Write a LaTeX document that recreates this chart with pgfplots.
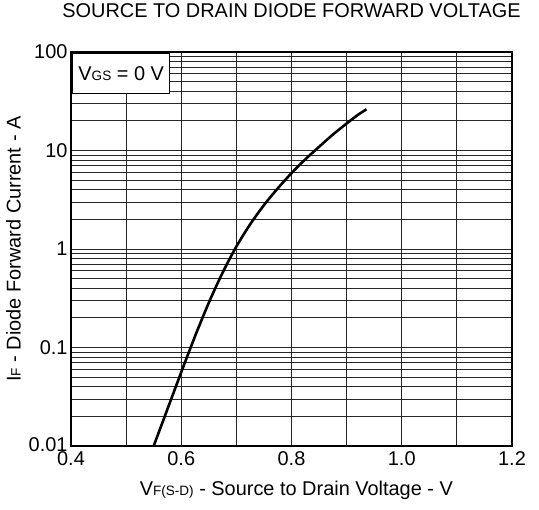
\documentclass[border=0pt]{standalone}
\usepackage{fontspec}
\setmainfont{Liberation Sans}
\usepackage{pgfplots}
\pgfplotsset{compat=1.18}

% smaller letters set on the baseline (V_GS, I_F ...)
\newcommand\sm[1]{{\fontsize{13.6}{16}\selectfont #1}}
\newcommand\lbl{\fontsize{20}{24}\selectfont}

\begin{document}
\begin{tikzpicture}
\begin{axis}[
    name=ax,
    at={(0,0)}, anchor=south west,
    width=441bp, height=394bp,
    scale only axis,
    xmin=0.4, xmax=1.2,
    ymode=log, ymin=0.01, ymax=100,
    xtick={0.4,0.6,0.8,1.0,1.2},
    xticklabels={0.4,0.6,0.8,1.0,1.2},
    minor x tick num=1,
    ytick={0.01,0.1,1,10,100},
    yticklabels={\raisebox{3bp}{0.01}\hspace{4bp},0.1,1,10,100},
    grid=both,
    major grid style={black!85, line width=0.9bp},
    minor grid style={black!85, line width=0.9bp},
    major tick length=0pt, minor tick length=0pt,
    axis line style={line width=2.2bp},
    tick label style={font=\lbl},
    x tick label style={yshift=-2bp},
    label style={font=\lbl},
    title style={font=\lbl, at={(axis description cs:0.5,1.0888)}, anchor=center},
    xlabel style={at={(axis description cs:0.511,-0.1129)}, anchor=center},
    ylabel style={at={(axis description cs:-0.1304,0.5)}, anchor=center},
    title={SOURCE TO DRAIN DIODE FORWARD VOLTAGE},
    xlabel={V\sm{F(S-D)} - Source to Drain Voltage - V},
    ylabel={I\sm{F} - Diode Forward Current - A},
]

% I_F vs V_SD
\addplot[black, line width=2.6bp, smooth] coordinates {
    (0.550, 0.0100)
    (0.575, 0.0237)
    (0.600, 0.0562)
    (0.625, 0.130)
    (0.650, 0.285)
    (0.675, 0.575)
    (0.700, 1.06)
    (0.725, 1.78)
    (0.750, 2.79)
    (0.775, 4.12)
    (0.800, 5.89)
    (0.825, 8.13)
    (0.850, 10.9)
    (0.875, 14.5)
    (0.900, 18.8)
    (0.920, 22.9)
    (0.936, 26.2)
};

\node[draw, line width=1.2bp, fill=white, anchor=north west,
      minimum width=97bp, minimum height=40bp, inner sep=0pt, font=\lbl]
    at ([xshift=1.1bp, yshift=-1.1bp]rel axis cs:0,1) {V\sm{GS} = 0 V};

\end{axis}
\pgfresetboundingbox
\useasboundingbox ([shift={(-71bp,-64bp)}]ax.south west)
    rectangle ([shift={(27bp,52bp)}]ax.north east);
\end{tikzpicture}
\end{document}
